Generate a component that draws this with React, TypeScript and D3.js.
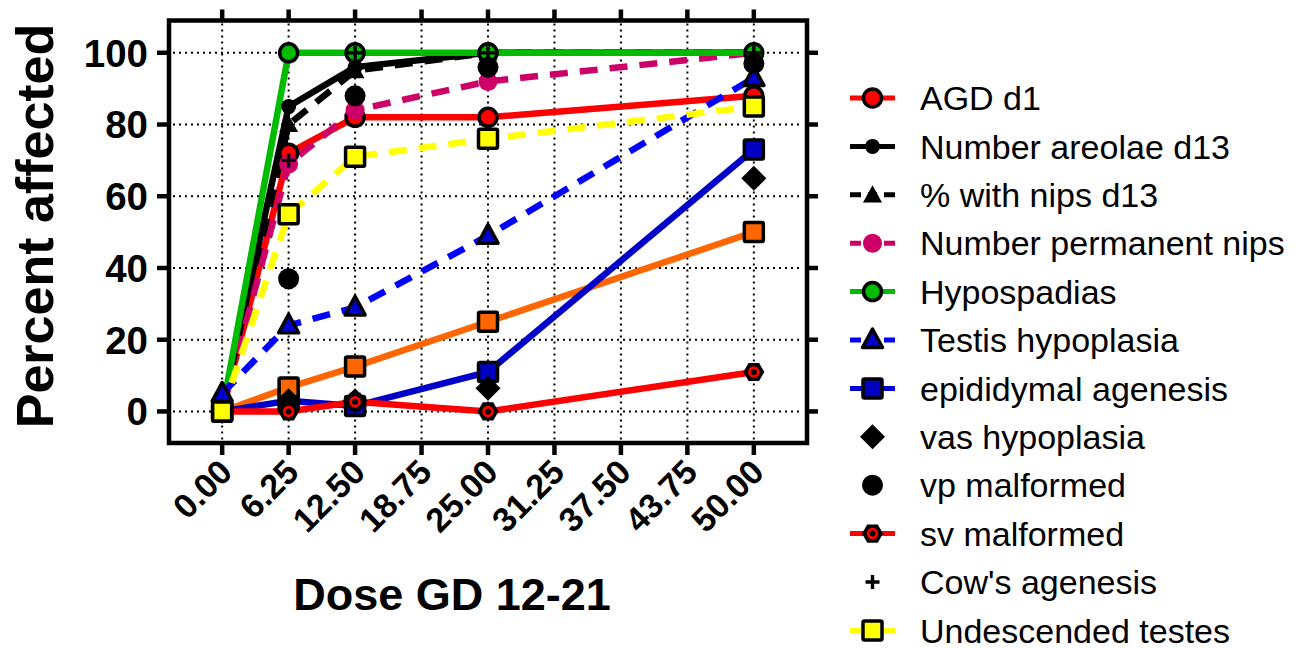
import React from "react";
import * as d3 from "d3";

const doses = [0, 6.25, 12.5, 25, 50];
const xTicks = [0, 6.25, 12.5, 18.75, 25, 31.25, 37.5, 43.75, 50];
const yTicks = [0, 20, 40, 60, 80, 100];

const agdD1 = [0, 72, 82, 82, 88];
const areolaeD13 = [0, 85, 96, 100, 100];
const nipsD13 = [0, 80, 95, 100, 100];
const permanentNips = [0, 69, 84, 92, 100];
const hypospadias = [0, 100, 100, 100, 100];
const testisHypoplasia = [5, 24, 29, 49, 93];
const epididymalAgenesis = [0, 3, 1.5, 11, 73];
const unlabeledOrange = [0, 6.7, 12.5, 25, 50];
const vasHypoplasia = [0, 3, 3, 6.5, 65];
const vpMalformed = [0, 37, 88, 96, 97];
const svMalformed = [0, 0, 2.7, 0, 11];
const cowsAgenesis = [0, 70, 100, 100, 100];
const undescendedTestes = [0, 55, 71, 76, 85];

type Marker = "circle" | "dot" | "bigdot" | "magdot" | "tri" | "tribig" | "square" | "diamond" | "hex" | "plus";
interface Series {
  name: string;
  values: number[];
  color: string | null;
  dashed: boolean;
  marker: Marker;
  fill: string;
  legend: boolean;
}

const series: Series[] = [
  { name: "AGD d1", values: agdD1, color: "#ff0000", dashed: false, marker: "circle", fill: "#ff0000", legend: true },
  { name: "Number areolae d13", values: areolaeD13, color: "#000000", dashed: false, marker: "dot", fill: "#000", legend: true },
  { name: "% with nips d13", values: nipsD13, color: "#000000", dashed: true, marker: "tri", fill: "#000", legend: true },
  { name: "Number permanent nips", values: permanentNips, color: "#cc0066", dashed: true, marker: "magdot", fill: "#cc0066", legend: true },
  { name: "Hypospadias", values: hypospadias, color: "#00bb00", dashed: false, marker: "circle", fill: "#00bb00", legend: true },
  { name: "Testis hypoplasia", values: testisHypoplasia, color: "#0000ff", dashed: true, marker: "tribig", fill: "#0000cc", legend: true },
  { name: "epididymal agenesis", values: epididymalAgenesis, color: "#0000c8", dashed: false, marker: "square", fill: "#0000c0", legend: true },
  { name: "", values: unlabeledOrange, color: "#ff6600", dashed: false, marker: "square", fill: "#ff6600", legend: false },
  { name: "vas hypoplasia", values: vasHypoplasia, color: null, dashed: false, marker: "diamond", fill: "#000", legend: true },
  { name: "vp malformed", values: vpMalformed, color: null, dashed: false, marker: "bigdot", fill: "#000", legend: true },
  { name: "sv malformed", values: svMalformed, color: "#ff0000", dashed: false, marker: "hex", fill: "#000", legend: true },
  { name: "Cow's agenesis", values: cowsAgenesis, color: null, dashed: false, marker: "plus", fill: "#000", legend: true },
  { name: "Undescended testes", values: undescendedTestes, color: "#ffff00", dashed: true, marker: "square", fill: "#ffff00", legend: true },
];

const lineOrder = [7, 0, 1, 2, 3, 4, 5, 6, 10, 12];

const W = 1306, H = 648;
const L = 169, R = 807, T = 20.5, B = 443;
const x = d3.scaleLinear().domain([-5, 55]).range([L, R]);
const y = d3.scaleLinear().domain([-8.8, 109]).range([B, T]);

function MarkerShape({ m, fill, cx, cy }: { m: Marker; fill: string; cx: number; cy: number }) {
  const sw = 3.5;
  switch (m) {
    case "circle":
      return <circle cx={cx} cy={cy} r={9} fill={fill} stroke="#000" strokeWidth={sw} />;
    case "dot":
      return <circle cx={cx} cy={cy} r={7.5} fill="#000" />;
    case "bigdot":
      return <circle cx={cx} cy={cy} r={10.5} fill="#000" />;
    case "magdot":
      return <circle cx={cx} cy={cy} r={9.5} fill={fill} />;
    case "tri": {
      const s = 9.5;
      return <path d={`M${cx},${cy - s}L${cx + s},${cy + s * 0.8}L${cx - s},${cy + s * 0.8}Z`} fill="#000" />;
    }
    case "tribig": {
      const s = 10;
      return (
        <path d={`M${cx},${cy - s - 1}L${cx + s},${cy + s * 0.75}L${cx - s},${cy + s * 0.75}Z`} fill={fill} stroke="#000" strokeWidth={sw} strokeLinejoin="round" />
      );
    }
    case "square":
      return <rect x={cx - 9.5} y={cy - 9.5} width={19} height={19} rx={1.5} fill={fill} stroke="#000" strokeWidth={sw} />;
    case "diamond": {
      const s = 12.5;
      return <path d={`M${cx},${cy - s}L${cx + s},${cy}L${cx},${cy + s}L${cx - s},${cy}Z`} fill="#000" />;
    }
    case "hex": {
      const r = 10.5;
      const pts = d3.range(6).map((i) => {
        const a = (Math.PI / 3) * i;
        return [cx + r * Math.cos(a), cy + r * Math.sin(a)];
      });
      return (
        <g>
          <path d={"M" + pts.map((p) => p.join(",")).join("L") + "Z"} fill="#000" />
          <circle cx={cx} cy={cy} r={4.4} fill="#000" stroke="#ff0000" strokeWidth={2.8} />
        </g>
      );
    }
    case "plus":
      return (
        <path d={`M${cx - 7},${cy}H${cx + 7}M${cx},${cy - 7}V${cy + 7}`} stroke="#000" strokeWidth={3.4} />
      );
  }
  return null;
}

export default function App() {
  const font = "'Liberation Sans', Arial, Helvetica, sans-serif";
  const line = d3
    .line<number>()
    .x((_, i) => x(doses[i]))
    .y((v) => y(v));
  const legendSeries = series.filter((s) => s.legend);
  const legY0 = 98;
  const legStep = 48.4;
  return (
    <svg width={W} height={H} style={{ position: "absolute", left: 0, top: 0, background: "#fff" }} fontFamily={font}>
      <rect width={W} height={H} fill="#fff" />
      {/* grid */}
      <g stroke="#000" strokeWidth={2} strokeDasharray="2,4">
        {xTicks.map((t) => (
          <line key={"gx" + t} x1={x(t)} x2={x(t)} y1={T + 3} y2={B - 3} />
        ))}
        {yTicks.map((t) => (
          <line key={"gy" + t} x1={L + 4} x2={R - 4} y1={y(t)} y2={y(t)} />
        ))}
      </g>
      {/* series lines */}
      {lineOrder.map((i) => {
        const s = series[i];
        return (
          <path
            key={"l" + i}
            d={line(s.values) || ""}
            fill="none"
            stroke={s.color || "none"}
            strokeWidth={6.5}
            strokeDasharray={s.dashed ? "18,12" : undefined}
          />
        );
      })}
      {/* markers */}
      {series.map((s, i) => (
        <g key={"m" + i}>
          {s.values.map((v, j) => (
            <MarkerShape key={j} m={s.marker} fill={s.fill} cx={x(doses[j])} cy={y(v)} />
          ))}
        </g>
      ))}
      {/* frame */}
      <rect x={L} y={T} width={R - L} height={B - T} fill="none" stroke="#000" strokeWidth={4.5} />
      {/* ticks */}
      <g stroke="#000" strokeWidth={4.5}>
        {xTicks.map((t) => (
          <g key={"tx" + t}>
            <line x1={x(t)} x2={x(t)} y1={B} y2={B + 12} />
            <line x1={x(t)} x2={x(t)} y1={T} y2={T - 11} />
          </g>
        ))}
        {yTicks.map((t) => (
          <g key={"ty" + t}>
            <line x1={L} x2={L - 12} y1={y(t)} y2={y(t)} />
            <line x1={R} x2={R + 11} y1={y(t)} y2={y(t)} />
          </g>
        ))}
      </g>
      {/* y tick labels */}
      {yTicks.map((t) => (
        <text key={"yl" + t} x={148} y={y(t)} dy="0.36em" textAnchor="end" fontWeight="bold" fontSize={38.5}>
          {t}
        </text>
      ))}
      {/* x tick labels */}
      {xTicks.map((t) => (
        <text
          key={"xl" + t}
          transform={`translate(${x(t) + 12},${474}) rotate(-45)`}
          textAnchor="end"
          fontWeight="bold"
          fontSize={34}
        >
          {t.toFixed(2)}
        </text>
      ))}
      {/* axis titles */}
      <text transform={`translate(53,226) rotate(-90)`} textAnchor="middle" fontWeight="bold" fontSize={52}>
        Percent affected
      </text>
      <text x={452} y={610} textAnchor="middle" fontWeight="bold" fontSize={45}>
        Dose GD 12-21
      </text>
      {/* legend */}
      {legendSeries.map((s, k) => {
        const cy = legY0 + k * legStep;
        return (
          <g key={"lg" + k}>
            {s.color && (
              <line
                x1={850}
                x2={895}
                y1={cy}
                y2={cy}
                stroke={s.color}
                strokeWidth={5}
                strokeDasharray={s.dashed ? "11,7,9,7,11" : undefined}
              />
            )}
            <MarkerShape m={s.marker} fill={s.fill} cx={872.5} cy={cy} />
            <text x={920} y={cy} dy="0.36em" fontSize={34}>
              {s.name}
            </text>
          </g>
        );
      })}
    </svg>
  );
}
